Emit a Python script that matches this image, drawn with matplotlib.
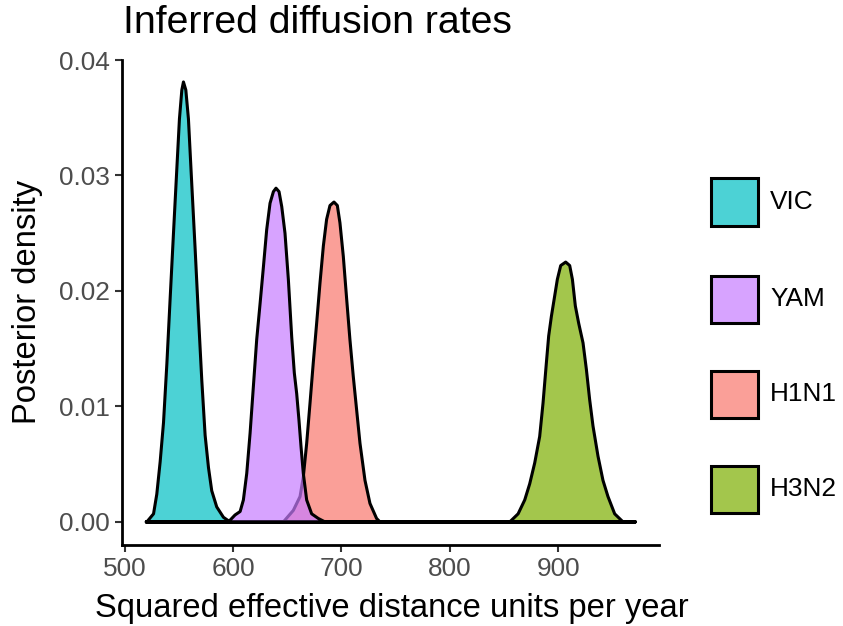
import numpy as np
import matplotlib
matplotlib.use("Agg")
import matplotlib.pyplot as plt
from matplotlib.patches import Rectangle

plt.rcParams['font.family'] = ['Liberation Sans', 'DejaVu Sans']

# density curves (x: distance units/yr, y: posterior density)
vic_x = [520, 520.4, 526.6, 529.6, 532.7, 535.8, 538.9, 541.9, 545.0, 548.1, 550.5, 552.7, 554.2,
         556.4, 558.8, 561.9, 565.0, 568.0, 571.1, 574.2, 577.3, 580.3, 584.9, 591.1, 597.2, 971]
vic_y = [0, 0, 0.0007, 0.0024, 0.0052, 0.0086, 0.0137, 0.0193, 0.0250, 0.0306, 0.0349, 0.0374, 0.0381,
         0.0374, 0.0349, 0.0292, 0.0236, 0.0179, 0.0123, 0.0075, 0.0047, 0.0027, 0.0013, 0.0004, 0, 0]

yam_x = [520, 595.7, 601.8, 606.5, 609.5, 612.6, 615.7, 618.7, 621.8, 624.9, 628.0, 631.0, 634.1, 637.2,
         639.6, 642.4, 644.9, 647.9, 651.0, 654.1, 656.5, 658.7, 660.8, 662.7, 664.8, 667.9, 672.5,
         678.6, 684.8, 971]
yam_y = [0, 0, 0.0006, 0.0009, 0.0019, 0.0042, 0.0077, 0.0117, 0.0158, 0.0189, 0.0221, 0.0253, 0.0276,
         0.0286, 0.0289, 0.0286, 0.0273, 0.0250, 0.0210, 0.0160, 0.0129, 0.0111, 0.0088, 0.0065, 0.0042,
         0.0019, 0.0007, 0.0003, 0, 0]

h1n1_x = [520, 646.4, 655.6, 661.8, 664.8, 667.9, 671.0, 674.0, 677.1, 680.2, 683.3, 686.3, 689.4, 693.1,
          696.2, 698.6, 701.7, 704.8, 707.8, 710.9, 714.0, 717.1, 721.7, 726.3, 732.4, 735.5, 971]
h1n1_y = [0, 0, 0.0010, 0.0022, 0.0039, 0.0068, 0.0103, 0.0138, 0.0172, 0.0207, 0.0239, 0.0262, 0.0274, 0.0277,
          0.0274, 0.0259, 0.0230, 0.0193, 0.0158, 0.0126, 0.0097, 0.0068, 0.0036, 0.0016, 0.0003, 0, 0]

h3n2_x = [520, 855.3, 863.0, 869.1, 873.7, 878.3, 882.9, 886.0, 889.1, 891.2, 893.7, 896.8, 899.2, 902.3,
          906.9, 910.6, 913.1, 915.8, 918.9, 922.9, 926.0, 929.0, 932.1, 936.7, 941.3, 945.9, 952.1,
          959.8, 971]
h3n2_y = [0, 0, 0.0007, 0.0019, 0.0033, 0.0051, 0.0074, 0.0103, 0.0138, 0.0161, 0.0178, 0.0196, 0.0210, 0.0222,
          0.0225, 0.0222, 0.0210, 0.0187, 0.0172, 0.0155, 0.0132, 0.0106, 0.0083, 0.0057, 0.0036, 0.0022, 0.0007,
          0, 0]

labels = ['VIC', 'YAM', 'H1N1', 'H3N2']
colors = {'VIC': '#00BFC4', 'YAM': '#C77CFF', 'H1N1': '#F8766D', 'H3N2': '#7CAE00'}
curves = {'VIC': (vic_x, vic_y), 'YAM': (yam_x, yam_y),
          'H1N1': (h1n1_x, h1n1_y), 'H3N2': (h3n2_x, h3n2_y)}

W, H = 843, 626
fig = plt.figure(figsize=(W / 100, H / 100), dpi=100)
ax = fig.add_axes([122 / W, 1 - 545 / H, 537 / W, 485 / H])

# drawn in alphabetical order like ggplot groups
for k in sorted(labels):
    x, y = curves[k]
    ax.fill(x, y, facecolor=matplotlib.colors.to_rgba(colors[k], 0.7),
            edgecolor='black', linewidth=2.2, joinstyle='round')

ax.set_xlim(497.5, 993)
ax.set_ylim(-0.002, 0.04)
ax.set_xticks([500, 600, 700, 800, 900])
ax.set_yticks([0.0, 0.01, 0.02, 0.03, 0.04])
ax.set_yticklabels(['0.00', '0.01', '0.02', '0.03', '0.04'])

for s in ['top', 'right']:
    ax.spines[s].set_visible(False)
for s in ['left', 'bottom']:
    ax.spines[s].set_linewidth(2.0)
    ax.spines[s].set_color('black')
ax.tick_params(axis='both', length=5, width=1.5, color='#333333',
               labelsize=18.9, labelcolor='#4D4D4D', pad=4)

fig.text(392 / W, 1 - 608 / H, 'Squared effective distance units per year',
         fontsize=23.6, ha='center', va='center')
fig.text(28 / W, 1 - 302 / H, 'Posterior density', fontsize=23.6,
         rotation=90, ha='center', va='center')
fig.text(123 / W, 1 - 23 / H, 'Inferred diffusion rates', fontsize=28.3,
         ha='left', va='center')

# legend
centers = [202, 299, 394, 489]
for k, cy in zip(labels, centers):
    fig.add_artist(Rectangle((711 / W, 1 - (cy + 23.5) / H), 47 / W, 47 / H,
                             transform=fig.transFigure,
                             facecolor=matplotlib.colors.to_rgba(colors[k], 0.7),
                             edgecolor='black', linewidth=2.2))
    fig.text(770 / W, 1 - cy / H, k, fontsize=18.9, ha='left', va='center')

fig.savefig('out.png', dpi=100)
